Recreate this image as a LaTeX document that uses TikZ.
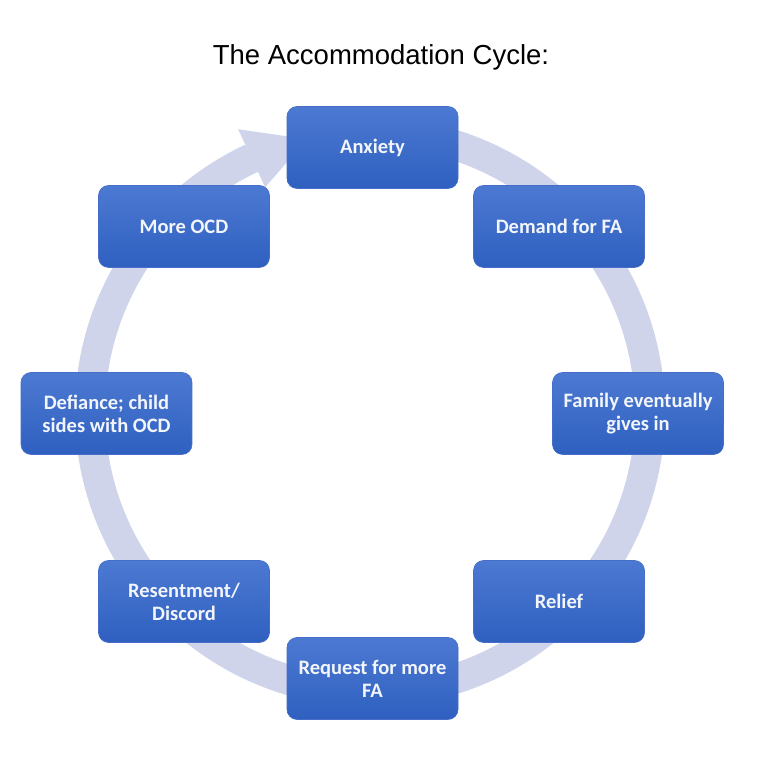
\documentclass[tikz,border=0pt]{standalone}
\usepackage{fontspec}
\usetikzlibrary{calc}
\setmainfont{Carlito}
\newfontfamily\titlefont{Liberation Sans}
\definecolor{ringc}{RGB}{207,212,234}
\definecolor{boxtop}{RGB}{76,121,210}
\definecolor{boxbot}{RGB}{47,96,192}
\definecolor{boxedge}{RGB}{70,110,200}
\definecolor{boxtext}{RGB}{242,245,250}
\tikzset{
  cyclebox/.style={rectangle, rounded corners=10pt, minimum width=171pt, minimum height=82pt,
    top color=boxtop, bottom color=boxbot, draw=boxedge, line width=0.6pt,
    text=boxtext, font=\bfseries\fontsize{20.5}{23}\selectfont, align=center, inner sep=2pt},
  ringband/.style={draw=ringc, line width=30pt},
}
\begin{document}
\begin{tikzpicture}[x=1pt,y=1pt]
\useasboundingbox (0,0) rectangle (768,757);
\fill[white] (0,0) rectangle (768,757);
\coordinate (C) at (370,345);
% background ring arrow
\draw[ringband] (C) ++(95:280) arc[start angle=95, end angle=-245, radius=280];
\fill[ringc] ($(C)+(115:248)$) -- ($(C)+(115:312)$) -- ($(C)+(103:280)$) -- cycle;
% title
\node[font=\titlefont\fontsize{27.5}{32}\selectfont, anchor=base] (title) at (381,692) {The Accommodation Cycle:};
% boxes
\node[cyclebox] (anx) at (372.5,609.5) {Anxiety};
\node[cyclebox] (dem) at (559,530.5) {Demand for FA};
\node[cyclebox] (fam) at (638,343.5) {Family eventually\\gives in};
\node[cyclebox] (rel) at (559,155.5) {Relief};
\node[cyclebox] (req) at (372.5,78.5) {Request for more\\FA};
\node[cyclebox] (res) at (184,155.5) {Resentment/\\Discord};
\node[cyclebox] (def) at (106.5,343.5) {Defiance; child\\sides with OCD};
\node[cyclebox] (ocd) at (184,530.5) {More OCD};
\end{tikzpicture}
\end{document}
